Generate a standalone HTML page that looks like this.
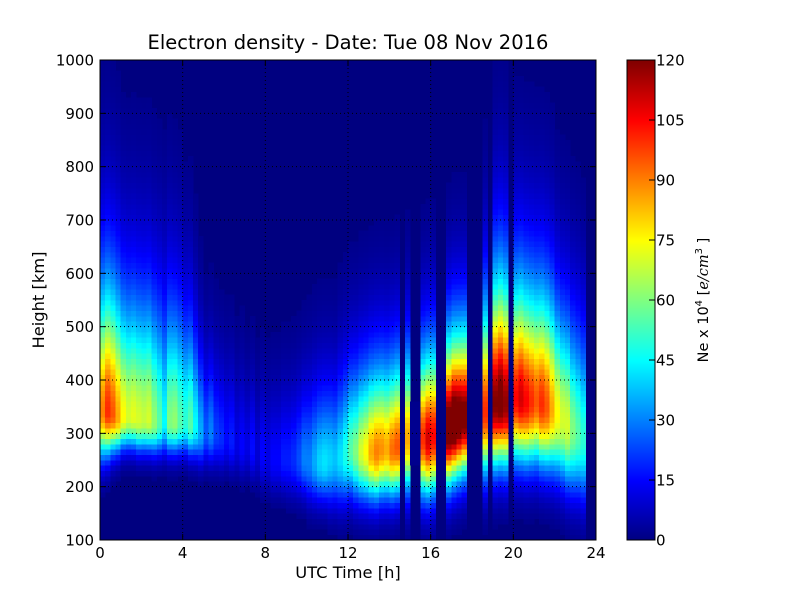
<!DOCTYPE html>
<html><head><meta charset="utf-8">
<style>
html,body{margin:0;padding:0;background:#fff;}
svg{display:block;font-family:"DejaVu Sans","Liberation Sans",sans-serif;}
</style></head>
<body>
<svg id="chart" width="800" height="600" viewBox="0 0 800 600" xmlns="http://www.w3.org/2000/svg">
<rect width="800" height="600" fill="#fff"/>
<text x="348" y="49" font-size="19.5" text-anchor="middle">Electron density - Date: Tue 08 Nov 2016</text>
<g id="heat" shape-rendering="crispEdges"></g>
<g id="grid"></g>
<rect x="100" y="60" width="496" height="480" fill="none" stroke="#000" stroke-width="1"/>
<g id="ticks"></g>
<text x="348" y="578" font-size="16.3" text-anchor="middle">UTC Time [h]</text>
<text transform="translate(44,300) rotate(-90)" font-size="16.3" text-anchor="middle">Height [km]</text>
<g id="cbar" shape-rendering="crispEdges"></g>
<rect x="627" y="60" width="28" height="480" fill="none" stroke="#000"/>
<g id="cticks"></g>
<text transform="translate(708,300) rotate(-90)" font-size="14.5" text-anchor="middle">Ne x 10<tspan font-size="10" dy="-6">4</tspan><tspan dy="6">  [</tspan><tspan font-style="italic" font-family="DejaVu Serif, serif">e/cm</tspan><tspan font-size="10" dy="-6">3</tspan><tspan dy="6"> ]</tspan></text>
</svg>
<script>
// time columns every 0.25 h starting at 0
const peakDensity = [90,100,95,85, 75,70,72,70, 68,70,62,55, 45,60,62,55, 50,55,45,35, 25,30,22,20, 16,18,12,15, 12,16,10,15, 12,15,15,18, 18,20,24,30, 30,35,40,42, 40,38,42,48, 55,60,70,75, 85,90,88,85, 92,95,0,85, 2,2,100,110, 105,0,0,130, 135,130,125,0, 0,0,100,0, 120,125,118,0, 105,110,105,100, 95,100,95,85, 75,70,70,60, 55,50];
const peakHeight = [340,340,335,330, 330,330,330,325, 325,325,320,320, 320,320,320,320, 320,315,310,300, 300,300,295,290, 290,285,280,275, 275,270,265,260, 255,250,250,250, 250,250,250,250, 245,245,245,245, 250,250,255,260, 270,265,265,265, 265,265,270,270, 270,275,280,290, 290,290,290,290, 295,300,305,310, 320,325,330,330, 335,335,340,345, 355,360,355,370, 365,365,360,360, 360,355,350,345, 335,325,315,305, 300,290];
const topScale = [130,130,130,130, 125,125,125,125, 125,125,125,125, 125,125,120,120, 110,110,100,90, 80,80,80,80, 80,80,80,80, 75,75,75,75, 75,75,75,75, 75,75,75,75, 80,80,80,80, 80,80,85,85, 85,85,85,85, 85,85,85,85, 85,85,85,85, 85,85,85,85, 85,85,85,85, 85,85,85,85, 100,100,105,110, 120,120,120,120, 115,115,115,115, 115,115,115,115, 110,110,110,110, 110,110];
const bottomScale = [80,75,65,60, 55,55,55,55, 55,55,55,55, 55,55,55,55, 55,55,55,55, 55,55,55,55, 55,55,55,55, 55,55,60,60, 60,60,60,60, 65,65,65,65, 70,70,70,70, 80,80,85,85, 85,85,85,85, 85,85,85,85, 85,85,85,95, 100,100,100,100, 100,100,100,100, 100,100,100,100, 110,110,110,110, 110,110,110,110, 110,110,110,110, 110,110,110,110, 110,110,110,110, 110,110];
const xTicks = [0,4,8,12,16,20,24];
const yTicks = [100,200,300,400,500,600,700,800,900,1000];
const cTicks = [0,15,30,45,60,75,90,105,120];

const NS="http://www.w3.org/2000/svg";
const X0=100,X1=596,Y0=540,Y1=60;
const xs=t=>X0+(t/24)*(X1-X0);
const ys=h=>Y0-((h-100)/900)*(Y0-Y1);
const vmax=120;
function jet(v){
  const x=Math.max(0,Math.min(1,v/vmax));
  const c=a=>Math.round(255*Math.max(0,Math.min(1,1.5-Math.abs(4*x-a))));
  return `rgb(${c(3)},${c(2)},${c(1)})`;
}
function mk(tag,attrs,parent){const e=document.createElementNS(NS,tag);for(const k in attrs)e.setAttribute(k,attrs[k]);parent.appendChild(e);return e;}
const heat=document.getElementById('heat');
mk('rect',{x:X0,y:Y1,width:X1-X0,height:Y0-Y1,fill:jet(0)},heat);
const dh=10;
for(let k=0;k<peakDensity.length;k++){
  const t0=k*0.25, nm=peakDensity[k], hm=peakHeight[k], ht=topScale[k], hb=bottomScale[k];
  const xa=xs(t0), xb=xs(t0+0.25);
  for(let h=100;h<1000;h+=dh){
    const hc=h+dh/2;
    let v;
    if(hc>=hm){const z=(hc-hm)/ht;v=nm*Math.exp(1-z-Math.exp(-z));}
    else{const z=(hm-hc)/hb;v=nm*Math.exp(-z*z);}
    if(v<1.5) continue;
    const r=mk('rect',{x:xa.toFixed(2),y:ys(h+dh).toFixed(2),width:(xb-xa+0.3).toFixed(2),height:(ys(h)-ys(h+dh)+0.3).toFixed(2),fill:jet(v)},heat);
    
    
  }
}
const grid=document.getElementById('grid'), ticks=document.getElementById('ticks');
xTicks.forEach(t=>{
  const x=xs(t);
  if(t>0&&t<24){const g=mk('line',{x1:x,x2:x,y1:Y1,y2:Y0,stroke:'#000','stroke-dasharray':'1,3','stroke-width':1},grid);
    }
  mk('line',{x1:x,x2:x,y1:Y0,y2:Y0-6,stroke:'#000'},ticks);
  mk('line',{x1:x,x2:x,y1:Y1,y2:Y1+6,stroke:'#000'},ticks);
  const l=mk('text',{x:x,y:558,'font-size':15,'text-anchor':'middle'},ticks);l.textContent=t;
  
});
yTicks.forEach(h=>{
  const y=ys(h);
  if(h>100&&h<1000){const g=mk('line',{x1:X0,x2:X1,y1:y,y2:y,stroke:'#000','stroke-dasharray':'1,3','stroke-width':1},grid);
    }
  mk('line',{x1:X0,x2:X0+6,y1:y,y2:y,stroke:'#000'},ticks);
  mk('line',{x1:X1,x2:X1-6,y1:y,y2:y,stroke:'#000'},ticks);
  const l=mk('text',{x:94,y:y+5.5,'font-size':15,'text-anchor':'end'},ticks);l.textContent=h;
  
});
const cb=document.getElementById('cbar'), ct=document.getElementById('cticks');
for(let i=0;i<240;i++){
  const v=(i+0.5)/240*vmax;
  mk('rect',{x:627,y:(540-(i+1)*2).toFixed(1),width:28,height:2.3,fill:jet(v)},cb);
}
cTicks.forEach(v=>{
  const y=540-v/vmax*480;
  mk('line',{x1:655,x2:649,y1:y,y2:y,stroke:'#000'},ct);
  const l=mk('text',{x:656,y:y+5.5,'font-size':15},ct);l.textContent=v;
  
});
</script>
</body></html>
